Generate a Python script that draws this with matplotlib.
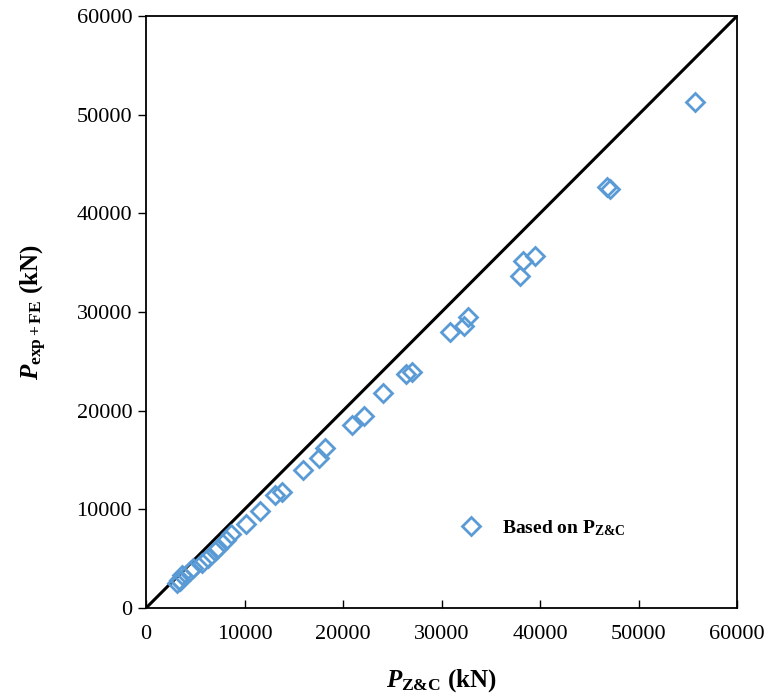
import matplotlib
matplotlib.use("Agg")
from matplotlib import pyplot as plt

# capacity from the Z&C model vs experimental / FE capacity (kN)
p_zc = [3100, 3300, 3400, 3700, 4500, 4800, 5700, 6300, 7000, 7300, 8100, 8600,
        10100, 11600, 13100, 13800, 15900, 17600, 18200, 20900, 22100, 24100,
        26400, 27000, 30900, 32300, 32700, 38000, 38300, 39500, 46800, 47100, 55700]
p_exp_fe = [2500, 2800, 2700, 3300, 3800, 4100, 4600, 5100, 5800, 6100, 6900, 7500,
            8500, 9800, 11500, 11800, 14000, 15200, 16200, 18500, 19500, 21800,
            23700, 23900, 28000, 28600, 29500, 33700, 35200, 35700, 42700, 42500, 51300]
ref_line = [0, 60000]
ticks = [0, 10000, 20000, 30000, 40000, 50000, 60000]

plt.rcParams["font.family"] = ["Liberation Serif", "DejaVu Serif"]
plt.rcParams["mathtext.fontset"] = "custom"
plt.rcParams["mathtext.rm"] = "Liberation Serif:bold"
plt.rcParams["mathtext.bf"] = "Liberation Serif:bold"
plt.rcParams["mathtext.it"] = "Liberation Serif:italic:bold"

fig = plt.figure(figsize=(7.71, 7.00), dpi=100)
ax = fig.add_axes([0.1894, 0.1314, 0.7665, 0.8457])

ax.plot(ref_line, ref_line, color="black", linewidth=2.2, zorder=2)
ax.plot(p_zc, p_exp_fe, linestyle="none", marker="D", markersize=9.5,
        markerfacecolor="none", markeredgecolor="#5B9BD5", markeredgewidth=2,
        label=r"Based on $\mathrm{P}_\mathrm{Z&C}$", zorder=3)

ax.set_xlim(0, 60000)
ax.set_ylim(0, 60000)
ax.set_xticks(ticks)
ax.set_yticks(ticks)
ax.tick_params(axis="x", direction="in", length=6, width=1, labelsize=16, pad=12)
ax.tick_params(axis="y", direction="out", length=6, width=1, labelsize=16, pad=4)
for s in ax.spines.values():
    s.set_linewidth(1.3)

ax.set_xlabel(r"$\mathit{P}_\mathrm{Z&C}$ (kN)", fontsize=18, fontweight="bold", labelpad=17)
ax.set_ylabel(r"$\mathit{P}_\mathrm{exp+FE}$ (kN)", fontsize=18, fontweight="bold", labelpad=20)

leg = ax.legend(loc="center left", bbox_to_anchor=(0.488, 0.135), frameon=False,
                prop={"size": 14, "weight": "bold"}, handletextpad=0.6)

fig.savefig("out.png", dpi=100)
